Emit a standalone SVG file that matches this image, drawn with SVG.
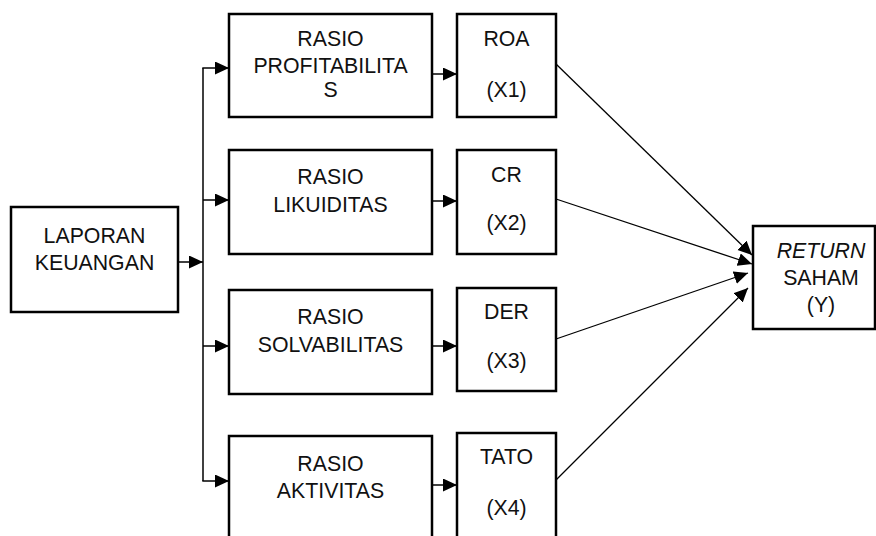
<svg xmlns="http://www.w3.org/2000/svg" width="876" height="536" viewBox="0 0 876 536">
<style>
.box{fill:#fff;stroke:#000;stroke-width:2.5}
.t{font-family:"Liberation Sans",Arial,sans-serif;font-size:21.3px;fill:#111;text-anchor:middle}
.c{fill:none;stroke:#000;stroke-width:1.5}
.d{fill:none;stroke:#000;stroke-width:1.3}
</style>
<defs>
<marker id="ah" markerUnits="userSpaceOnUse" markerWidth="16" markerHeight="14" refX="14" refY="6.5" orient="auto">
<path d="M0,0 L14,6.5 L0,13 Z" fill="#000"/>
</marker>
</defs>
<rect width="876" height="536" fill="#fff"/>
<g id="connectors">
<line class="c" x1="178" y1="262" x2="203" y2="262" marker-end="url(#ah)"/>
<line class="c" x1="203" y1="68" x2="203" y2="481"/>
<line class="c" x1="202.3" y1="68" x2="229" y2="68" marker-end="url(#ah)"/>
<line class="c" x1="203" y1="200" x2="229" y2="200" marker-end="url(#ah)"/>
<line class="c" x1="203" y1="346" x2="229" y2="346" marker-end="url(#ah)"/>
<line class="c" x1="202.3" y1="481" x2="229" y2="481" marker-end="url(#ah)"/>
<line class="c" x1="432" y1="74" x2="457" y2="74" marker-end="url(#ah)"/>
<line class="c" x1="432" y1="201" x2="457" y2="201" marker-end="url(#ah)"/>
<line class="c" x1="432" y1="346" x2="457" y2="346" marker-end="url(#ah)"/>
<line class="c" x1="432" y1="485" x2="457" y2="485" marker-end="url(#ah)"/>
<line class="d" x1="556" y1="64" x2="752" y2="255" marker-end="url(#ah)"/>
<line class="d" x1="556" y1="199" x2="752" y2="264" marker-end="url(#ah)"/>
<line class="d" x1="556" y1="339" x2="748" y2="273" marker-end="url(#ah)"/>
<line class="d" x1="556" y1="480" x2="748" y2="288" marker-end="url(#ah)"/>
</g>
<g id="laporan">
<rect class="box" x="11" y="207" width="167" height="105"/>
<text class="t" x="94.5" y="243">LAPORAN</text>
<text class="t" x="94.5" y="270">KEUANGAN</text>
</g>
<g id="rasio-profitabilitas">
<rect class="box" x="229" y="14" width="203" height="103"/>
<text class="t" x="330.5" y="46">RASIO</text>
<text class="t" x="330.5" y="73">PROFITABILITA</text>
<text class="t" x="330.5" y="97">S</text>
</g>
<g id="roa">
<rect class="box" x="457" y="14" width="99" height="103"/>
<text class="t" x="506.5" y="46">ROA</text>
<text class="t" x="506.5" y="97">(X1)</text>
</g>
<g id="rasio-likuiditas">
<rect class="box" x="229" y="150" width="203" height="104"/>
<text class="t" x="330.5" y="184">RASIO</text>
<text class="t" x="330.5" y="212">LIKUIDITAS</text>
</g>
<g id="cr">
<rect class="box" x="457" y="150" width="99" height="104"/>
<text class="t" x="506.5" y="182">CR</text>
<text class="t" x="506.5" y="230">(X2)</text>
</g>
<g id="rasio-solvabilitas">
<rect class="box" x="229" y="290" width="203" height="104"/>
<text class="t" x="330.5" y="324">RASIO</text>
<text class="t" x="330.5" y="352">SOLVABILITAS</text>
</g>
<g id="der">
<rect class="box" x="457" y="288" width="99" height="103"/>
<text class="t" x="506.5" y="319">DER</text>
<text class="t" x="506.5" y="368">(X3)</text>
</g>
<g id="rasio-aktivitas">
<rect class="box" x="229" y="436" width="203" height="112"/>
<text class="t" x="330.5" y="471">RASIO</text>
<text class="t" x="330.5" y="498">AKTIVITAS</text>
</g>
<g id="tato">
<rect class="box" x="457" y="433" width="99" height="112"/>
<text class="t" x="506.5" y="464">TATO</text>
<text class="t" x="506.5" y="515">(X4)</text>
</g>
<g id="return-saham">
<rect class="box" x="753" y="226" width="122" height="103"/>
<text class="t" x="821" y="258" font-style="italic">RETURN</text>
<text class="t" x="821" y="285">SAHAM</text>
<text class="t" x="821" y="312">(Y)</text>
</g>
</svg>
